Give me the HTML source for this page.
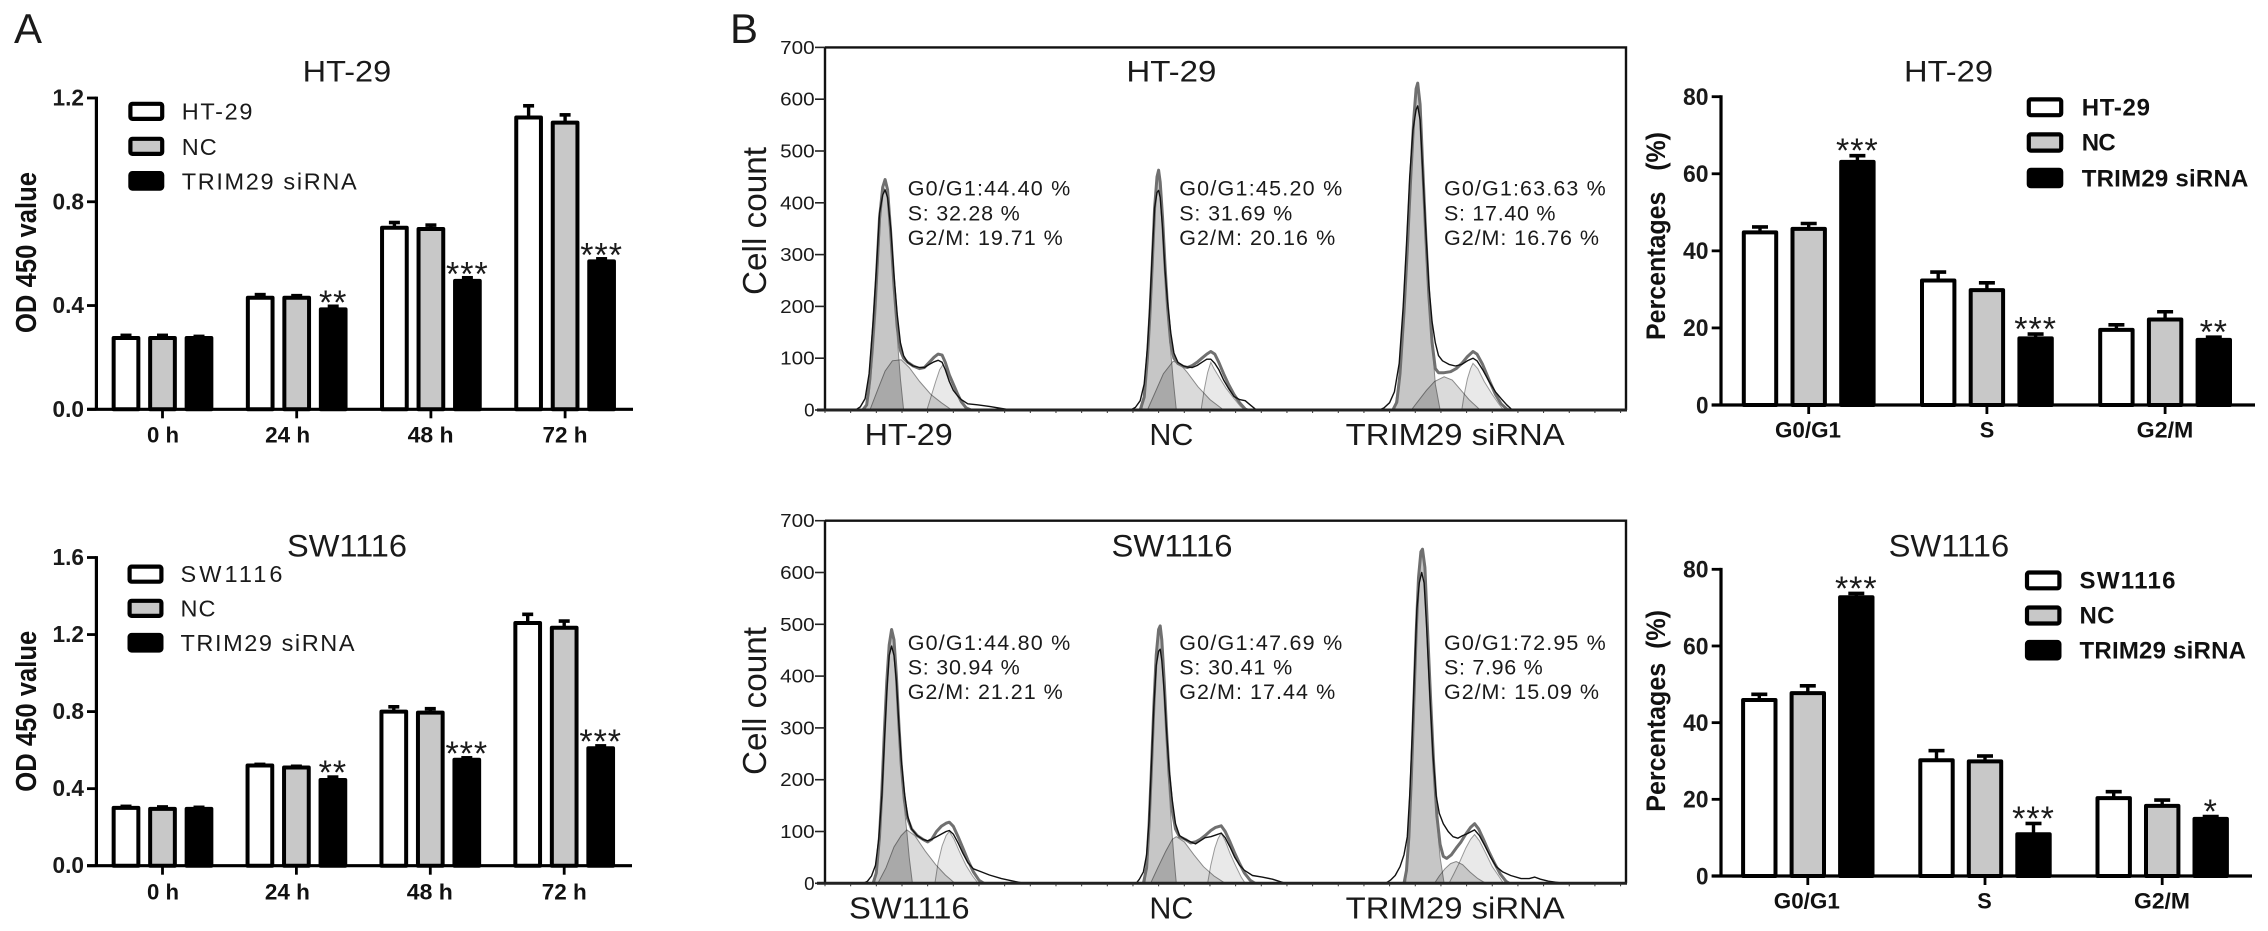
<!DOCTYPE html>
<html lang="en">
<head>
<meta charset="utf-8">
<title>TRIM29 siRNA proliferation and cell cycle figure</title>
<style>
html,body{margin:0;padding:0;background:#fff;}
#figure{display:block;width:2268px;height:931px;background:#fff;}
text{font-family:"Liberation Sans",sans-serif;fill:#1a1a1a;}
.b{font-weight:bold;fill:#111;}
.t{font-size:30px;}
.t2{font-size:31.5px;}
.lg{font-size:23.5px;}
.lb{font-size:24px;font-weight:bold;fill:#111;}
.an{font-size:21.5px;}
.sm{font-size:30.5px;}
.xa{font-size:22.5px;font-weight:bold;fill:#111;text-anchor:middle;}
.xc{font-size:22px;font-weight:bold;fill:#111;text-anchor:middle;}
.box{stroke:#000;stroke-width:4.2;stroke-linejoin:round;}
</style>
</head>
<body>
<svg id="figure" xmlns="http://www.w3.org/2000/svg" width="2268" height="931" viewBox="0 0 2268 931">
<rect x="0" y="0" width="2268" height="931" fill="#fff"/>

<text x="14" y="43" font-size="42">A</text>
<text x="730" y="43" font-size="42">B</text>

<!-- Panel A titles -->
<text class="t" x="302.7" y="81.7" textLength="88.5" lengthAdjust="spacingAndGlyphs">HT-29</text>
<text class="t2" x="287" y="556.7" textLength="120" lengthAdjust="spacingAndGlyphs">SW1116</text>
<text class="b" font-size="26" textLength="161" lengthAdjust="spacingAndGlyphs" transform="translate(35.8,333) rotate(-90) scale(1,1.12)">OD 450 value</text>
<text class="b" font-size="26" textLength="161" lengthAdjust="spacingAndGlyphs" transform="translate(35.8,791.7) rotate(-90) scale(1,1.12)">OD 450 value</text>

<!-- Panel A legends -->
<g>
<rect class="box" x="130.4" y="103.8" width="31.8" height="15.1" rx="2" fill="#fff"/>
<rect class="box" x="130.4" y="138.8" width="31.8" height="15.1" rx="2" fill="#c8c8c8"/>
<rect class="box" x="130.4" y="173.1" width="31.8" height="15.5" rx="2" fill="#000"/>
<text class="lg" x="181.7" y="119.3" textLength="70.7">HT-29</text>
<text class="lg" x="181.7" y="155" textLength="35">NC</text>
<text class="lg" x="181.7" y="189.3" textLength="175">TRIM29 siRNA</text>
</g>
<g>
<rect class="box" x="129.6" y="566.6" width="31.8" height="15.1" rx="2" fill="#fff"/>
<rect class="box" x="129.6" y="600.8" width="31.8" height="15.1" rx="2" fill="#c8c8c8"/>
<rect class="box" x="129.6" y="635" width="31.8" height="15.5" rx="2" fill="#000"/>
<text class="lg" x="180.5" y="582" textLength="102">SW1116</text>
<text class="lg" x="180.5" y="616.5" textLength="35">NC</text>
<text class="lg" x="180.5" y="651" textLength="174">TRIM29 siRNA</text>
</g>

<!-- Panel A x labels -->
<g>
<text class="xa" x="163" y="442.7" textLength="32" lengthAdjust="spacingAndGlyphs">0 h</text>
<text class="xa" x="287.6" y="442.7" textLength="45" lengthAdjust="spacingAndGlyphs">24 h</text>
<text class="xa" x="430.6" y="442.7" textLength="46" lengthAdjust="spacingAndGlyphs">48 h</text>
<text class="xa" x="565" y="442.7" textLength="45" lengthAdjust="spacingAndGlyphs">72 h</text>
</g>
<g>
<text class="xa" x="163" y="899.3" textLength="32" lengthAdjust="spacingAndGlyphs">0 h</text>
<text class="xa" x="287.4" y="899.3" textLength="45" lengthAdjust="spacingAndGlyphs">24 h</text>
<text class="xa" x="429.8" y="899.3" textLength="46" lengthAdjust="spacingAndGlyphs">48 h</text>
<text class="xa" x="564.3" y="899.3" textLength="45" lengthAdjust="spacingAndGlyphs">72 h</text>
</g>

<!-- Panel B text -->
<text class="t" x="1126.4" y="81.7" textLength="90" lengthAdjust="spacingAndGlyphs">HT-29</text>
<text class="t2" x="1111.5" y="556.7" textLength="121" lengthAdjust="spacingAndGlyphs">SW1116</text>
<text font-size="33" textLength="148" lengthAdjust="spacingAndGlyphs" transform="translate(766,295) rotate(-90)">Cell count</text>
<text font-size="33" textLength="148" lengthAdjust="spacingAndGlyphs" transform="translate(766,775) rotate(-90)">Cell count</text>

<g>
<text class="an" x="907.7" y="195.5" textLength="162.5">G0/G1:44.40 %</text>
<text class="an" x="907.7" y="220.5" textLength="112">S: 32.28 %</text>
<text class="an" x="907.7" y="245" textLength="155">G2/M: 19.71 %</text>
<text class="an" x="1179.2" y="195.5" textLength="163">G0/G1:45.20 %</text>
<text class="an" x="1179.2" y="220.5" textLength="113">S: 31.69 %</text>
<text class="an" x="1179.2" y="245" textLength="156">G2/M: 20.16 %</text>
<text class="an" x="1444" y="195.5" textLength="161.7">G0/G1:63.63 %</text>
<text class="an" x="1444" y="220.5" textLength="111.5">S: 17.40 %</text>
<text class="an" x="1444" y="245" textLength="155">G2/M: 16.76 %</text>
</g>
<g>
<text class="an" x="907.7" y="650" textLength="162.5">G0/G1:44.80 %</text>
<text class="an" x="907.7" y="674.5" textLength="112">S: 30.94 %</text>
<text class="an" x="907.7" y="699" textLength="155">G2/M: 21.21 %</text>
<text class="an" x="1179.2" y="650" textLength="163">G0/G1:47.69 %</text>
<text class="an" x="1179.2" y="674.5" textLength="113">S: 30.41 %</text>
<text class="an" x="1179.2" y="699" textLength="156">G2/M: 17.44 %</text>
<text class="an" x="1444" y="650" textLength="161.7">G0/G1:72.95 %</text>
<text class="an" x="1444" y="674.5" textLength="98.7">S: 7.96 %</text>
<text class="an" x="1444" y="699" textLength="155">G2/M: 15.09 %</text>
</g>
<g>
<text class="sm" x="864.7" y="445" textLength="88" lengthAdjust="spacingAndGlyphs">HT-29</text>
<text class="sm" x="1149.4" y="445" textLength="44" lengthAdjust="spacingAndGlyphs">NC</text>
<text class="sm" x="1345.7" y="445" textLength="219" lengthAdjust="spacingAndGlyphs">TRIM29 siRNA</text>
</g>
<g>
<text class="sm" x="849" y="918.5" textLength="120.6" lengthAdjust="spacingAndGlyphs">SW1116</text>
<text class="sm" x="1149.4" y="918.5" textLength="44" lengthAdjust="spacingAndGlyphs">NC</text>
<text class="sm" x="1345.7" y="918.5" textLength="219" lengthAdjust="spacingAndGlyphs">TRIM29 siRNA</text>
</g>

<!-- Right panel text -->
<text class="t" x="1904" y="81.7" textLength="89" lengthAdjust="spacingAndGlyphs">HT-29</text>
<text class="t2" x="1888.6" y="556.7" textLength="120.6" lengthAdjust="spacingAndGlyphs">SW1116</text>
<text class="b" font-size="26.5" textLength="208" lengthAdjust="spacingAndGlyphs" transform="translate(1665,340) rotate(-90)">Percentages&#160;&#160;&#160;(%)</text>
<text class="b" font-size="26.5" textLength="201.7" lengthAdjust="spacingAndGlyphs" transform="translate(1665,811.7) rotate(-90)">Percentages&#160;&#160;(%)</text>

<g>
<rect class="box" x="2028.8" y="99.4" width="32.4" height="15.8" rx="2" fill="#fff"/>
<rect class="box" x="2028.8" y="134.4" width="32.4" height="16.2" rx="2" fill="#c8c8c8"/>
<rect class="box" x="2028.8" y="169.8" width="32.4" height="16.4" rx="2" fill="#000"/>
<text class="lb" x="2081.7" y="115.5" textLength="68.3">HT-29</text>
<text class="lb" x="2081.7" y="150.7" textLength="34">NC</text>
<text class="lb" x="2081.7" y="186.7" textLength="166.7">TRIM29 siRNA</text>
</g>
<g>
<rect class="box" x="2027" y="572.5" width="32.4" height="15.8" rx="2" fill="#fff"/>
<rect class="box" x="2027" y="607.5" width="32.4" height="16" rx="2" fill="#c8c8c8"/>
<rect class="box" x="2027" y="642" width="32.4" height="16.4" rx="2" fill="#000"/>
<text class="lb" x="2079.5" y="588.3" textLength="96">SW1116</text>
<text class="lb" x="2079.5" y="623.3" textLength="35">NC</text>
<text class="lb" x="2079.5" y="658.3" textLength="166.5">TRIM29 siRNA</text>
</g>
<g>
<text class="xc" x="1808" y="437.7" textLength="66" lengthAdjust="spacingAndGlyphs">G0/G1</text>
<text class="xc" x="1987" y="437.7" textLength="14.5" lengthAdjust="spacingAndGlyphs">S</text>
<text class="xc" x="2165" y="437.7" textLength="56.6" lengthAdjust="spacingAndGlyphs">G2/M</text>
</g>
<g>
<text class="xc" x="1806.8" y="908.3" textLength="66" lengthAdjust="spacingAndGlyphs">G0/G1</text>
<text class="xc" x="1984.5" y="908.3" textLength="14.5" lengthAdjust="spacingAndGlyphs">S</text>
<text class="xc" x="2162" y="908.3" textLength="56" lengthAdjust="spacingAndGlyphs">G2/M</text>
</g>
</svg>

<script>
/* ---------- OD 450 data ---------- */
const odTicksHt29 = [0, 0.4, 0.8, 1.2];
const odTicksSw1116 = [0, 0.4, 0.8, 1.2, 1.6];
const ht29OdControl = [0.275, 0.43, 0.70, 1.125];
const ht29OdNc = [0.275, 0.43, 0.695, 1.105];
const ht29OdSirna = [0.275, 0.385, 0.495, 0.57];
const ht29OdControlErr = [0.01, 0.012, 0.02, 0.045];
const ht29OdNcErr = [0.01, 0.008, 0.015, 0.03];
const ht29OdSirnaErr = [0.006, 0.012, 0.012, 0.01];
const ht29OdStars = ['', '**', '***', '***'];
const sw1116OdControl = [0.30, 0.52, 0.80, 1.26];
const sw1116OdNc = [0.295, 0.51, 0.795, 1.235];
const sw1116OdSirna = [0.295, 0.445, 0.55, 0.61];
const sw1116OdControlErr = [0.008, 0.006, 0.025, 0.045];
const sw1116OdNcErr = [0.01, 0.006, 0.02, 0.035];
const sw1116OdSirnaErr = [0.008, 0.015, 0.01, 0.012];
const sw1116OdStars = ['', '**', '***', '***'];

/* ---------- Cell-cycle percentage data ---------- */
const pctTicks = [0, 20, 40, 60, 80];
const ht29PctControl = [44.8, 32.3, 19.5];
const ht29PctNc = [45.7, 29.8, 22.2];
const ht29PctSirna = [63.1, 17.3, 16.9];
const ht29PctControlErr = [1.4, 2.2, 1.3];
const ht29PctNcErr = [1.4, 1.9, 2.0];
const ht29PctSirnaErr = [1.6, 1.1, 0.7];
const ht29PctStars = ['***', '***', '**'];
const sw1116PctControl = [45.9, 30.2, 20.3];
const sw1116PctNc = [47.7, 29.9, 18.3];
const sw1116PctSirna = [72.7, 10.9, 14.9];
const sw1116PctControlErr = [1.5, 2.5, 1.7];
const sw1116PctNcErr = [1.9, 1.4, 1.5];
const sw1116PctSirnaErr = [1.0, 2.8, 0.6];
const sw1116PctStars = ['***', '***', '*'];

/* ---------- Flow histogram data: [channel, count] ---------- */
const cellTicks = [0, 100, 200, 300, 400, 500, 600, 700];
const channelTicks = [0, 32, 64, 96, 128, 160, 192, 224, 256, 288, 320, 352, 384, 416, 448, 480, 512, 544, 576, 608, 640, 672, 704, 736, 768, 800, 832, 864, 896, 928, 960, 992];

const ht29ControlG1 = [[50,0],[55,30],[60,110],[64,200],[67,300],[70,390],[73,430],[76,420],[79,400],[82,340],[85,270],[88,190],[91,120],[94,60],[98,0]];
const ht29ControlS = [[56,0],[66,40],[75,75],[84,95],[95,97],[105,82],[118,55],[132,30],[145,14],[158,0]];
const ht29ControlG2 = [[127,0],[132,25],[138,55],[143,78],[147,87],[152,75],[158,52],[165,30],[172,12],[179,0]];
const ht29ControlFit = [[47,0],[52,10],[56,60],[60,150],[64,250],[68,370],[72,430],[75,445],[78,425],[82,340],[86,240],[90,160],[94,115],[98,100],[103,92],[110,85],[118,80],[124,82],[130,92],[136,102],[141,108],[146,106],[150,92],[155,68],[160,50],[165,32],[170,16],[176,4],[182,0]];
const ht29ControlRaw = [[38,0],[44,6],[50,22],[55,70],[60,170],[64,270],[68,380],[72,415],[75,425],[78,410],[82,350],[86,260],[90,185],[94,130],[98,105],[103,92],[110,85],[118,82],[124,82],[130,88],[136,93],[141,96],[146,92],[150,78],[155,55],[160,38],[165,28],[170,20],[178,12],[190,10],[205,7],[220,3],[232,0]];

const ht29NcG1 = [[395,0],[399,40],[403,130],[406,230],[409,330],[412,420],[415,455],[417,440],[420,380],[423,300],[426,220],[430,130],[434,60],[438,0]];
const ht29NcS = [[402,0],[412,35],[422,70],[434,94],[442,90],[452,72],[465,45],[480,20],[497,0]];
const ht29NcG2 = [[469,0],[473,40],[477,72],[481,92],[485,80],[492,62],[500,42],[510,22],[518,7],[524,0]];
const ht29NcFit = [[393,0],[398,25],[402,100],[405,180],[408,280],[411,390],[414,450],[416,463],[418,440],[421,370],[424,280],[427,200],[431,130],[435,100],[440,90],[447,84],[452,82],[458,86],[464,92],[470,100],[476,108],[481,113],[486,108],[491,92],[497,70],[503,50],[510,30],[517,14],[524,2],[527,0]];
const ht29NcRaw = [[381,0],[387,5],[393,18],[398,50],[402,120],[405,200],[408,300],[411,390],[414,420],[416,424],[418,410],[421,350],[424,270],[427,210],[431,150],[435,110],[440,92],[447,85],[452,83],[458,82],[464,86],[470,92],[476,98],[481,98],[486,90],[491,78],[497,58],[503,42],[510,26],[517,20],[524,18],[530,10],[538,0]];

const ht29SirnaG1 = [[710,0],[716,60],[721,170],[725,290],[729,420],[733,540],[737,610],[740,620],[743,560],[746,450],[750,320],[754,200],[758,110],[761,50],[767,0]];
const ht29SirnaS = [[731,0],[740,18],[750,38],[760,55],[772,64],[782,58],[792,40],[803,20],[817,0]];
const ht29SirnaG2 = [[794,0],[797,30],[801,60],[805,80],[808,90],[814,80],[822,55],[832,30],[840,12],[846,0]];
const ht29SirnaFit = [[708,0],[713,15],[717,70],[722,190],[726,310],[730,440],[734,560],[737,620],[739,631],[742,590],[745,480],[749,340],[753,220],[757,130],[761,80],[765,72],[772,72],[780,74],[787,80],[794,90],[801,103],[808,113],[813,108],[820,88],[828,58],[836,30],[843,12],[850,2],[853,0]];
const ht29SirnaRaw = [[691,0],[697,4],[704,14],[710,35],[716,90],[721,200],[725,320],[729,450],[733,540],[737,580],[739,587],[742,560],[745,470],[749,350],[753,240],[757,170],[761,130],[765,105],[770,95],[778,88],[786,85],[794,88],[801,95],[808,100],[813,95],[820,78],[828,55],[836,35],[843,22],[850,10],[857,0]];

const sw1116ControlG1 = [[62,0],[66,50],[70,140],[73,240],[76,340],[79,430],[82,480],[85,470],[88,420],[91,340],[94,250],[98,160],[102,100],[105,50],[109,0]];
const sw1116ControlS = [[66,0],[76,30],[86,70],[95,92],[102,103],[112,92],[125,62],[138,36],[150,16],[162,0]];
const sw1116ControlG2 = [[137,0],[141,40],[146,72],[151,92],[155,100],[161,85],[168,60],[176,34],[184,14],[191,0]];
const sw1116ControlFit = [[60,0],[64,20],[68,90],[71,180],[74,290],[77,390],[80,460],[83,490],[86,470],[89,400],[92,310],[95,230],[99,160],[103,125],[108,105],[115,92],[122,85],[128,80],[133,85],[139,100],[145,110],[151,116],[155,118],[160,110],[166,90],[172,68],[178,45],[185,22],[192,6],[198,0]];
const sw1116ControlRaw = [[48,0],[53,4],[58,14],[63,35],[67,85],[71,170],[74,270],[77,370],[80,440],[83,458],[86,440],[89,390],[92,310],[95,240],[99,175],[103,130],[108,105],[115,92],[122,85],[128,82],[133,85],[139,90],[145,95],[151,100],[155,102],[160,95],[166,78],[172,58],[178,40],[185,28],[195,22],[205,16],[220,9],[235,4],[248,0]];

const sw1116NcG1 = [[399,0],[402,50],[405,130],[408,240],[411,350],[414,450],[417,490],[420,460],[423,370],[426,270],[429,180],[432,110],[435,50],[438,0]];
const sw1116NcS = [[406,0],[415,30],[425,62],[433,85],[438,90],[448,80],[460,55],[472,32],[485,14],[499,0]];
const sw1116NcG2 = [[477,0],[481,35],[486,68],[490,86],[494,97],[499,82],[505,58],[512,34],[519,12],[524,0]];
const sw1116NcFit = [[397,0],[401,30],[404,110],[407,220],[410,340],[413,440],[416,490],[418,497],[420,470],[423,390],[426,290],[429,210],[433,140],[437,105],[442,90],[449,85],[456,78],[462,80],[468,85],[474,92],[481,102],[487,108],[494,111],[499,100],[505,80],[511,58],[517,38],[523,20],[530,6],[536,0]];
const sw1116NcRaw = [[388,0],[392,8],[397,22],[401,55],[404,120],[407,230],[410,340],[413,420],[416,448],[418,452],[420,430],[423,370],[426,290],[429,220],[433,160],[437,115],[442,92],[449,85],[456,80],[462,76],[468,82],[474,88],[481,90],[487,93],[494,97],[499,88],[505,70],[511,50],[517,35],[523,25],[533,15],[545,12],[558,8],[574,0]];

const sw1116SirnaG1 = [[724,0],[727,50],[730,140],[733,270],[736,430],[739,540],[742,620],[745,640],[748,600],[751,480],[755,340],[759,210],[763,120],[767,50],[772,0]];
const sw1116SirnaS = [[760,0],[766,14],[773,28],[780,38],[787,42],[795,36],[804,22],[814,9],[824,0]];
const sw1116SirnaG2 = [[778,0],[784,18],[791,40],[799,68],[805,85],[810,94],[816,82],[824,58],[832,32],[840,14],[846,0]];
const sw1116SirnaFit = [[722,0],[725,25],[728,90],[731,200],[734,340],[737,480],[740,590],[743,640],[745,645],[748,610],[751,500],[755,360],[759,230],[763,130],[767,75],[771,52],[775,48],[781,55],[787,68],[793,80],[799,95],[805,108],[810,115],[815,105],[821,85],[828,60],[835,38],[842,18],[849,4],[853,0]];
const sw1116SirnaRaw = [[699,0],[705,6],[711,15],[717,32],[722,55],[726,90],[729,170],[732,280],[735,410],[738,530],[741,580],[744,600],[747,580],[750,500],[754,370],[758,250],[762,170],[766,135],[771,115],[777,100],[783,90],[789,87],[795,92],[801,96],[806,100],[810,103],[816,92],[823,72],[830,50],[837,32],[845,22],[855,15],[868,9],[878,9],[885,12],[892,8],[902,4],[912,2],[921,0]];

/* ---------- Drawing ---------- */
const NS = 'http://www.w3.org/2000/svg';
const root = document.getElementById('figure');

function make(tag, parent, props) {
  const el = document.createElementNS(NS, tag);
  Object.keys(props).forEach(function (k) { el.setAttribute(k, props[k]); });
  parent.appendChild(el);
  return el;
}

function drawBarChart(c) {
  const yOf = function (v) { return c.yZero - (v / c.max) * (c.yZero - c.yMax); };
  const g = make('g', root, {});
  
  

  const fills = ['#ffffff', '#c8c8c8', '#000000'];
  const seriesNames = ['control', 'nc', 'sirna'];

  c.series.forEach(function (vals, s) {
    vals.forEach(function (v, i) {
      const cx = c.firstCenter + i * c.groupStep + (s - 1) * c.barStep;
      const top = yOf(v);
      const errTop = yOf(v + c.errors[s][i]);

      const stem = make('line', g, { x1: cx, x2: cx, y1: top, y2: errTop, stroke: '#000', 'stroke-width': 3.4 });
      
      

      const cap = make('line', g, { x1: cx - c.capW / 2, x2: cx + c.capW / 2, y1: errTop, y2: errTop, stroke: '#000', 'stroke-width': 3.6 });
      
      

      const bar = make('rect', g, {
        x: cx - (c.barW - c.stroke) / 2, y: top,
        width: c.barW - c.stroke, height: c.yZero - top,
        fill: fills[s], stroke: '#000', 'stroke-width': c.stroke, 'stroke-linejoin': 'round'
      });
      
      

      if (s === 2 && c.stars[i]) {
        const star = make('text', g, {
          x: cx, y: errTop - c.starGap + 14.5, 'text-anchor': 'middle', 'font-size': c.starSize, 'letter-spacing': 1
        });
        star.textContent = c.stars[i];
        
        
      }
    });
  });

  const yAxis = make('line', g, { x1: c.axisX, x2: c.axisX, y1: c.yMax - 1.4, y2: c.yZero, stroke: '#000', 'stroke-width': 3.2 });
  
  

  const xAxis = make('line', g, { x1: c.xAxisFrom, x2: c.xAxisTo, y1: c.yZero, y2: c.yZero, stroke: '#000', 'stroke-width': 3.2 });
  
  

  c.ticks.forEach(function (t) {
    const ty = yOf(t);
    const tick = make('line', g, { x1: c.xAxisFrom, x2: c.axisX, y1: ty, y2: ty, stroke: '#000', 'stroke-width': 2.8 });
    
    
    const label = make('text', g, {
      x: c.labelRight, y: ty + c.labelDrop, 'text-anchor': 'end', 'font-size': c.labelSize, 'font-weight': 'bold',
      textLength: c.labelW(t), lengthAdjust: 'spacingAndGlyphs'
    });
    label.textContent = c.format(t);
    
    
  });

  c.series[0].forEach(function (_, i) {
    const tx = c.firstCenter + i * c.groupStep;
    const xt = make('line', g, { x1: tx, x2: tx, y1: c.yZero, y2: c.yZero + 9, stroke: '#000', 'stroke-width': 2.8 });
    
    
  });
}

function drawHistogram(c) {
  const xOf = function (ch) { return 825 + ch * 0.802; };
  const yOf = function (n) { return c.yZero - n * 0.518; };
  const pts = function (arr) { return arr.map(function (p) { return xOf(p[0]).toFixed(1) + ',' + yOf(p[1]).toFixed(1); }).join(' '); };

  const g = make('g', root, {});
  
  

  c.samples.forEach(function (smp) {
    const fillG = make('g', g, { style: 'isolation:isolate' });
    
    

    const g1 = make('polygon', fillG, { points: pts(smp[0]), fill: '#c6c6c6', stroke: '#8a8a8a', 'stroke-width': 1, style: 'mix-blend-mode:multiply' });
    
    

    const sp = make('polygon', fillG, { points: pts(smp[1]), fill: '#dadada', stroke: '#8a8a8a', 'stroke-width': 1, style: 'mix-blend-mode:multiply' });
    
    

    const g2 = make('polygon', fillG, { points: pts(smp[2]), fill: '#e9e9e9', stroke: '#999', 'stroke-width': 1, style: 'mix-blend-mode:multiply' });
    
    

    const fit = make('polyline', g, { points: pts(smp[3]), fill: 'none', stroke: '#707070', 'stroke-width': 3, 'stroke-linejoin': 'round' });
    
    

    const raw = make('polyline', g, { points: pts(smp[4]), fill: 'none', stroke: '#111', 'stroke-width': 1.4, 'stroke-linejoin': 'round' });
    
    
  });

  const frame = make('path', g, {
    d: 'M825 ' + yOf(700) + ' H1626 V' + c.yZero + ' M825 ' + yOf(700) + ' V' + c.yZero,
    fill: 'none', stroke: '#111', 'stroke-width': 2.4
  });
  
  

  const base = make('line', g, { x1: 817, x2: 1627, y1: c.yZero, y2: c.yZero, stroke: '#222', 'stroke-width': 3 });
  
  

  channelTicks.forEach(function (ch) {
    const m = make('line', g, { x1: xOf(ch), x2: xOf(ch), y1: c.yZero, y2: c.yZero + 3, stroke: '#333', 'stroke-width': 1 });
    
    
  });

  cellTicks.forEach(function (t) {
    const ty = yOf(t);
    const tick = make('line', g, { x1: 815, x2: 825, y1: ty, y2: ty, stroke: '#222', 'stroke-width': 1.6 });
    
    
    const label = make('text', g, {
      x: 814.7, y: ty + 6.5, 'text-anchor': 'end', 'font-size': 18.5,
      textLength: t === 0 ? 10.5 : 34.5, lengthAdjust: 'spacingAndGlyphs'
    });
    label.textContent = String(t);
    
    
  });
}

drawBarChart({
  name: 'od-ht29-chart', yZero: 409.3, yMax: 98, max: 1.2, ticks: odTicksHt29,
  series: [ht29OdControl, ht29OdNc, ht29OdSirna],
  errors: [ht29OdControlErr, ht29OdNcErr, ht29OdSirnaErr], stars: ht29OdStars,
  firstCenter: 162.5, groupStep: 134.2, barStep: 36.5, barW: 28.7, stroke: 4, capW: 11, starGap: 7, starSize: 34,
  axisX: 96.4, xAxisFrom: 87, xAxisTo: 633, labelRight: 84, labelDrop: 7.5, labelSize: 22.8,
  labelW: function () { return 31.5; }, format: function (t) { return t.toFixed(1); }
});
drawBarChart({
  name: 'od-sw1116-chart', yZero: 865.7, yMax: 557.5, max: 1.6, ticks: odTicksSw1116,
  series: [sw1116OdControl, sw1116OdNc, sw1116OdSirna],
  errors: [sw1116OdControlErr, sw1116OdNcErr, sw1116OdSirnaErr], stars: sw1116OdStars,
  firstCenter: 162.5, groupStep: 133.9, barStep: 36.5, barW: 28.7, stroke: 4, capW: 11, starGap: 7.5, starSize: 34,
  axisX: 96.4, xAxisFrom: 87, xAxisTo: 632, labelRight: 84, labelDrop: 7.5, labelSize: 22.8,
  labelW: function () { return 31.5; }, format: function (t) { return t.toFixed(1); }
});
drawBarChart({
  name: 'cycle-ht29-chart', yZero: 405, yMax: 96.7, max: 80, ticks: pctTicks,
  series: [ht29PctControl, ht29PctNc, ht29PctSirna],
  errors: [ht29PctControlErr, ht29PctNcErr, ht29PctSirnaErr], stars: ht29PctStars,
  firstCenter: 1808.7, groupStep: 178.2, barStep: 48.7, barW: 36.4, stroke: 4, capW: 16, starGap: 8, starSize: 34,
  axisX: 1721, xAxisFrom: 1711.7, xAxisTo: 2255, labelRight: 1708.5, labelDrop: 8.3, labelSize: 24,
  labelW: function (t) { return t === 0 ? 12.5 : 25.5; }, format: function (t) { return String(t); }
});
drawBarChart({
  name: 'cycle-sw1116-chart', yZero: 876, yMax: 569.3, max: 80, ticks: pctTicks,
  series: [sw1116PctControl, sw1116PctNc, sw1116PctSirna],
  errors: [sw1116PctControlErr, sw1116PctNcErr, sw1116PctSirnaErr], stars: sw1116PctStars,
  firstCenter: 1807.8, groupStep: 177.2, barStep: 48.5, barW: 36.4, stroke: 4, capW: 16, starGap: 8, starSize: 34,
  axisX: 1721, xAxisFrom: 1711.7, xAxisTo: 2252, labelRight: 1708.5, labelDrop: 8.3, labelSize: 24,
  labelW: function (t) { return t === 0 ? 12.5 : 25.5; }, format: function (t) { return String(t); }
});
drawHistogram({
  name: 'histogram-ht29-chart', yZero: 410,
  samples: [
    [ht29ControlG1, ht29ControlS, ht29ControlG2, ht29ControlFit, ht29ControlRaw],
    [ht29NcG1, ht29NcS, ht29NcG2, ht29NcFit, ht29NcRaw],
    [ht29SirnaG1, ht29SirnaS, ht29SirnaG2, ht29SirnaFit, ht29SirnaRaw]
  ]
});
drawHistogram({
  name: 'histogram-sw1116-chart', yZero: 883.3,
  samples: [
    [sw1116ControlG1, sw1116ControlS, sw1116ControlG2, sw1116ControlFit, sw1116ControlRaw],
    [sw1116NcG1, sw1116NcS, sw1116NcG2, sw1116NcFit, sw1116NcRaw],
    [sw1116SirnaG1, sw1116SirnaS, sw1116SirnaG2, sw1116SirnaFit, sw1116SirnaRaw]
  ]
});
</script>
</body>
</html>
